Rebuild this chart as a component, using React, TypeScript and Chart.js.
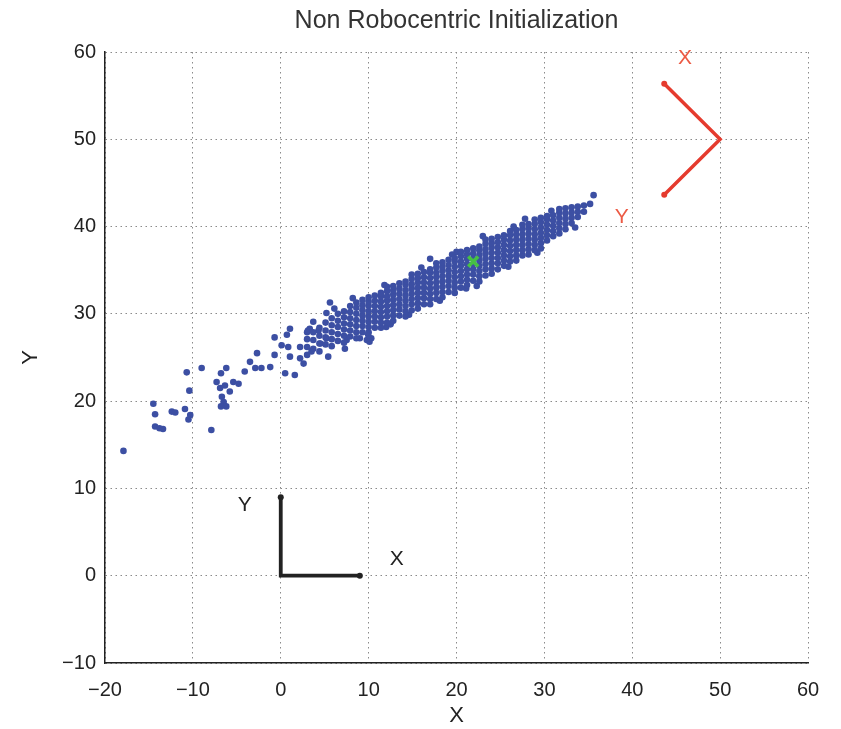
import React, { useEffect, useRef } from 'react';
import { Chart, registerables } from 'chart.js';

Chart.register(...registerables);

const TITLE = 'Non Robocentric Initialization';
const X_LABEL = 'X';
const Y_LABEL = 'Y';
const X_MIN = -20, X_MAX = 60, Y_MIN = -10, Y_MAX = 60, TICK_STEP = 10;

// sparse (outlying) landmark samples
const sparseX = [-17.9, -14.5, -14.3, -14.3, -13.8, -13.4, -12.4, -12.0, -10.9, -10.3, -10.5, -10.4, -10.7, -9.0, -7.9, -6.8, -7.3, -6.9, -6.35, -6.2, -6.7, -6.5, -6.8, -6.2, -5.8, -5.4, -4.8, -4.1, -3.5, -2.9, -2.7, -2.2, -1.2, -0.7, -0.7, 0.1, 0.85, 2.2, 1.05, 2.2, 2.6, 0.5, 1.6, 1.05, 0.7, 5.6, 3.5, 5.4, 3.3, 3.7, 4.3, 3.1, 4.5, 5.2, 5.2, 7.3, 9.8, 10.3, 12.0, 9.95, 10.1, 7.5, 21.1, 17.0, 20.0, 35.6];
const sparseY = [14.3, 19.7, 18.5, 17.1, 16.9, 16.8, 18.8, 18.7, 19.1, 18.4, 17.9, 21.2, 23.3, 23.8, 16.7, 23.2, 22.2, 21.5, 21.8, 23.8, 20.5, 19.9, 19.4, 19.4, 21.1, 22.2, 22.0, 23.4, 24.5, 23.8, 25.5, 23.8, 23.9, 27.3, 25.3, 26.4, 26.2, 26.2, 25.1, 24.9, 24.3, 23.2, 23.0, 28.3, 27.6, 31.3, 25.7, 25.1, 28.3, 29.1, 28.1, 28.1, 26.6, 27.2, 30.1, 26.0, 27.0, 27.2, 28.5, 27.6, 26.8, 27.0, 32.9, 36.3, 37.1, 43.6];

// points along the ragged edges of the cloud
const edgeX = [8.2, 11.8, 16.0, 19.5, 23.0, 26.5, 30.8, 14.6, 18.1, 22.3, 25.9, 29.2, 6.1, 9.0, 12.5, 27.8, 33.5];
const edgeY = [31.8, 33.3, 35.3, 36.8, 38.9, 40.0, 41.8, 29.9, 31.5, 33.2, 35.4, 37.0, 30.6, 27.2, 28.8, 40.9, 39.9];

// dense cloud, read column by column
const cloudColumnX = [3.0, 3.7, 4.4, 5.1, 5.8, 6.5, 7.2, 7.9, 8.6, 9.3, 10.0, 10.7, 11.4, 12.1, 12.8, 13.5, 14.2, 14.9, 15.6, 16.3, 17.0, 17.7, 18.4, 19.1, 19.8, 20.5, 21.2, 21.9, 22.6, 23.3, 24.0, 24.7, 25.4, 26.1, 26.8, 27.5, 28.2, 28.9, 29.6, 30.3, 31.0, 31.7, 32.4, 33.1, 33.8, 34.5, 35.2];
const cloudColumnY = [
  [25.3, 26.2, 27.1, 27.9],
  [26.0, 27.0, 27.9],
  [25.7, 26.6, 27.5, 28.4],
  [26.5, 27.3, 28.1, 29.0],
  [26.3, 27.1, 27.9, 28.7, 29.5],
  [26.9, 27.7, 28.5, 29.2, 30.0],
  [26.7, 27.5, 28.2, 28.9, 29.6, 30.3],
  [27.4, 28.1, 28.8, 29.5, 30.2, 30.9],
  [27.2, 27.9, 28.6, 29.3, 30.0, 30.7, 31.3],
  [27.9, 28.6, 29.2, 29.8, 30.4, 31.0, 31.6],
  [27.9, 28.5, 29.1, 29.7, 30.3, 30.9, 31.4, 31.9],
  [28.4, 29.1, 29.7, 30.3, 30.9, 31.5, 32.1],
  [28.4, 29.0, 29.6, 30.2, 30.8, 31.4, 32.0, 32.4],
  [29.0, 29.7, 30.3, 30.9, 31.5, 32.0, 32.6, 33.1],
  [29.2, 29.8, 30.4, 31.0, 31.6, 32.2, 32.7, 33.2],
  [29.8, 30.5, 31.1, 31.7, 32.3, 32.9, 33.5],
  [29.7, 30.3, 30.9, 31.5, 32.1, 32.7, 33.3, 33.7],
  [30.4, 31.1, 31.7, 32.3, 32.9, 33.4, 34.0, 34.5],
  [30.6, 31.2, 31.8, 32.4, 33.0, 33.6, 34.1, 34.6],
  [31.1, 31.8, 32.4, 33.0, 33.6, 34.2, 34.8],
  [31.1, 31.7, 32.3, 32.9, 33.5, 34.1, 34.7, 35.1],
  [31.7, 32.4, 33.0, 33.6, 34.2, 34.7, 35.3, 35.8],
  [31.9, 32.5, 33.1, 33.7, 34.3, 34.9, 35.4, 35.9],
  [32.5, 33.2, 33.8, 34.4, 35.0, 35.6, 36.2],
  [32.4, 33.0, 33.6, 34.2, 34.8, 35.4, 36.0, 36.4],
  [33.0, 33.7, 34.3, 34.9, 35.5, 36.0, 36.6, 37.1],
  [33.3, 33.9, 34.5, 35.1, 35.7, 36.3, 36.8, 37.3],
  [33.8, 34.5, 35.1, 35.7, 36.3, 36.9, 37.5],
  [33.7, 34.3, 34.9, 35.5, 36.1, 36.7, 37.3, 37.7],
  [34.4, 35.1, 35.7, 36.3, 36.9, 37.4, 38.0, 38.5],
  [34.6, 35.2, 35.8, 36.4, 37.0, 37.6, 38.1, 38.6],
  [35.1, 35.8, 36.4, 37.0, 37.6, 38.2, 38.8],
  [35.5, 36.1, 36.7, 37.3, 37.9, 38.5, 39.0],
  [36.0, 36.6, 37.2, 37.8, 38.4, 39.0, 39.5],
  [36.1, 36.7, 37.3, 37.9, 38.5, 39.1, 39.6],
  [36.7, 37.3, 37.9, 38.5, 39.1, 39.7, 40.2],
  [36.8, 37.4, 38.0, 38.6, 39.2, 39.8, 40.3],
  [37.3, 37.9, 38.5, 39.1, 39.7, 40.3, 40.8],
  [37.5, 38.1, 38.7, 39.3, 39.9, 40.5, 41.0],
  [38.4, 39.0, 39.6, 40.2, 40.8, 41.2],
  [38.9, 39.5, 40.1, 40.7, 41.3],
  [39.2, 39.8, 40.4, 41.0, 41.6, 42.0],
  [39.7, 40.3, 40.9, 41.5, 42.1],
  [40.4, 41.0, 41.6, 42.2],
  [41.1, 41.7, 42.3],
  [41.7, 42.4],
  [42.6],
];

// initial robot estimate
const robotEstimateX = [21.9];
const robotEstimateY = [36.0];

// world frame (black) and robot frame (red) axes
const worldFrameX = [0, 0, 9];
const worldFrameY = [9, 0, 0];
const robotFrameX = [43.64, 50, 43.64];
const robotFrameY = [56.36, 50, 43.64];

const frameLabelText = ['Y', 'X', 'X', 'Y'];
const frameLabelX = [-4.1, 13.2, 46.0, 38.8];
const frameLabelY = [8.1, 1.9, 59.3, 41.1];
const frameLabelIsRobot = [false, false, true, true];

const BLUE = '#3c4fa3';
const RED = '#e53b2e';
const RED_TEXT = '#ec5a44';
const GREEN = '#46c044';
const INK = '#222222';
const FONT = "'Liberation Sans', Arial, sans-serif";

const minus = (v: number) => String(v).replace('-', '\u2212');

export default function App() {
  const ref = useRef<HTMLCanvasElement | null>(null);

  useEffect(() => {
    document.body.style.margin = '0';
    const canvas = ref.current;
    if (!canvas) return;

    const cloud: { x: number; y: number }[] = [];
    sparseX.forEach((x, i) => cloud.push({ x, y: sparseY[i] }));
    edgeX.forEach((x, i) => cloud.push({ x, y: edgeY[i] }));
    cloudColumnX.forEach((x, i) => cloudColumnY[i].forEach((y) => cloud.push({ x, y })));

    const textPlugin = {
      id: 'texts',
      afterDatasetsDraw(chart: any) {
        const { ctx, chartArea, scales } = chart;
        const xs = scales.x, ys = scales.y;
        ctx.save();
        ctx.textAlign = 'center';
        ctx.textBaseline = 'middle';
        // title
        ctx.fillStyle = '#333333';
        ctx.font = `25px ${FONT}`;
        ctx.fillText(TITLE, (chartArea.left + chartArea.right) / 2, 21);
        // axis titles
        ctx.fillStyle = INK;
        ctx.font = `22px ${FONT}`;
        ctx.fillText(X_LABEL, (chartArea.left + chartArea.right) / 2, 716);
        ctx.save();
        ctx.translate(31, (chartArea.top + chartArea.bottom) / 2);
        ctx.rotate(-Math.PI / 2);
        ctx.fillText(Y_LABEL, 0, 0);
        ctx.restore();
        // frame labels
        frameLabelText.forEach((t, i) => {
          ctx.fillStyle = frameLabelIsRobot[i] ? RED_TEXT : INK;
          ctx.font = `21px ${FONT}`;
          ctx.fillText(t, xs.getPixelForValue(frameLabelX[i]), ys.getPixelForValue(frameLabelY[i]));
        });
        ctx.restore();
      },
    };

    const chart = new Chart(canvas, {
      type: 'scatter',
      data: {
        datasets: [
          {
            data: cloud,
            order: 4,
            pointRadius: 3.3,
            pointBackgroundColor: BLUE,
            pointBorderWidth: 0,
            showLine: false,
          },
          {
            data: robotEstimateX.map((x, i) => ({ x, y: robotEstimateY[i] })),
            order: 0,
            pointStyle: 'crossRot',
            pointRadius: 7,
            pointBorderWidth: 3.5,
            pointBorderColor: GREEN,
            showLine: false,
          },
          {
            data: worldFrameX.map((x, i) => ({ x, y: worldFrameY[i] })),
            order: 1,
            showLine: true,
            borderColor: INK,
            borderWidth: 3.8,
            pointRadius: [3, 0, 3],
            pointBackgroundColor: INK,
            pointBorderWidth: 0,
          },
          {
            data: robotFrameX.map((x, i) => ({ x, y: robotFrameY[i] })),
            order: 1,
            showLine: true,
            borderColor: RED,
            borderWidth: 3.5,
            pointRadius: [3, 0, 3],
            pointBackgroundColor: RED,
            pointBorderWidth: 0,
          },
        ],
      },
      options: {
        animation: false,
        responsive: false,
        devicePixelRatio: 1,
        layout: { padding: { top: 52, right: 33, left: 0, bottom: 0 } },
        plugins: { legend: { display: false }, tooltip: { enabled: false }, title: { display: false } },
        scales: {
          x: {
            type: 'linear',
            min: X_MIN,
            max: X_MAX,
            ticks: {
              stepSize: TICK_STEP,
              color: INK,
              font: { family: FONT, size: 20 },
              padding: 15,
              callback: (v: any) => minus(Number(v)),
            },
            grid: { color: '#8a8a8a', lineWidth: 1, drawTicks: false },
            border: { display: true, color: INK, width: 1.5, dash: [1.5, 3.5] },
            afterFit: (s: any) => {
              s.height = 66;
              s.paddingLeft = 0;
              s.paddingRight = 0;
            },
          },
          y: {
            type: 'linear',
            min: Y_MIN,
            max: Y_MAX,
            ticks: {
              stepSize: TICK_STEP,
              color: INK,
              font: { family: FONT, size: 20 },
              padding: 9,
              callback: (v: any) => minus(Number(v)),
            },
            grid: { color: '#8a8a8a', lineWidth: 1, drawTicks: false },
            border: { display: true, color: INK, width: 1.5, dash: [1.5, 3.5] },
            afterFit: (s: any) => {
              s.width = 105;
              s.paddingTop = 0;
              s.paddingBottom = 0;
            },
          },
        },
      },
      plugins: [textPlugin],
    });

    return () => chart.destroy();
  }, []);

  return (
    <div style={{ width: 841, height: 729, background: '#ffffff' }}>
      <canvas ref={ref} width={841} height={729} style={{ display: 'block' }} />
    </div>
  );
}
